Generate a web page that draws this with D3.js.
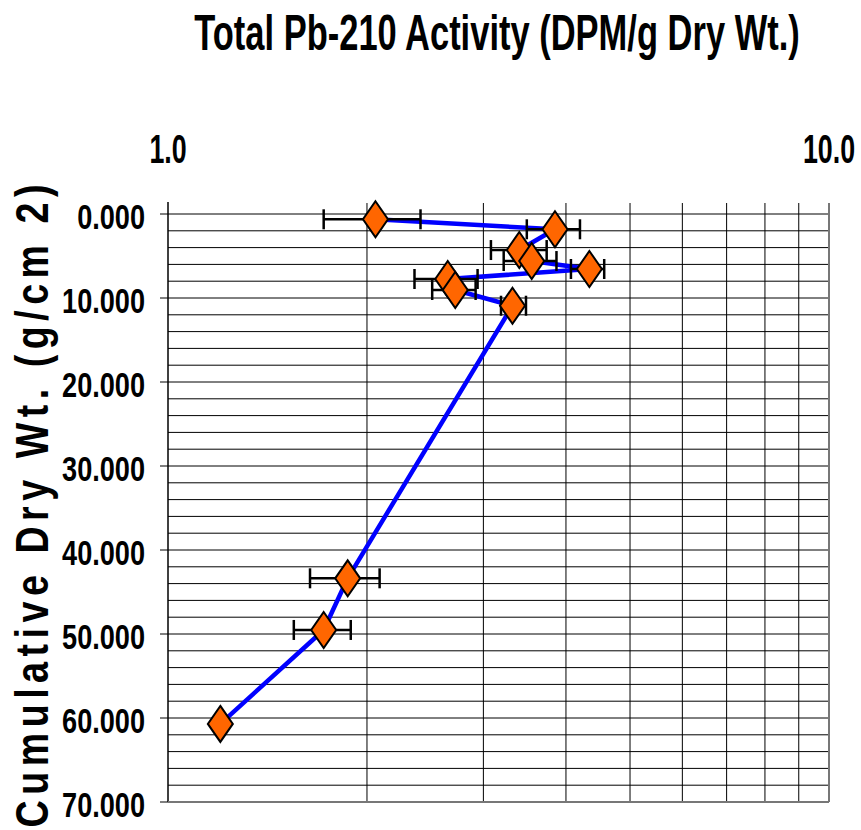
<!DOCTYPE html>
<html>
<head>
<meta charset="utf-8">
<script src="https://cdn.jsdelivr.net/npm/d3@7"></script>
<style>
  body { margin: 0; background: #fff; }
  text { font-family: "Liberation Sans", Arial, sans-serif; font-weight: bold; }
</style>
</head>
<body>
<div id="chart"></div>
<script>
// Pb-210 activity (DPM/g) vs cumulative dry weight (g/cm2)
const activity = [2.06, 3.85, 3.40, 3.55, 4.34, 2.65, 2.72, 3.32, 1.87, 1.72, 1.20];
const errLow   = [1.72, 3.49, 3.08, 3.22, 4.07, 2.36, 2.51, 3.19, 1.64, 1.55, 1.20];
const errHigh  = [2.41, 4.20, 3.74, 3.87, 4.57, 2.94, 2.92, 3.48, 2.09, 1.89, 1.20];
const cumWt    = [0.63, 1.82, 4.29, 5.60, 6.55, 7.74, 9.05, 10.92, 43.37, 49.52, 60.7];
const xTickLabels = ["1.0", "10.0"];
const yTicks = [0, 10, 20, 30, 40, 50, 60, 70];

const width = 861, height = 830;
const margin = {top: 214, right: 32, bottom: 28, left: 168};

let svg = d3.select("#chart").append("svg")
    .attr("width", width)
    .attr("height", height);

let x = d3.scaleLog().domain([1, 10]).range([margin.left, width - margin.right]);
let y = d3.scaleLinear().domain([0, 70]).range([margin.top, height - margin.bottom]);

// horizontal grid every 2
let grid = svg.append("g");
grid.selectAll("line.h")
    .data(d3.range(0, 71, 2))
    .enter().append("line")
    .attr("x1", x(1)).attr("x2", x(10))
    .attr("y1", d => y(d)).attr("y2", d => y(d))
    .attr("stroke", "#000").attr("stroke-width", 1);

// vertical grid (log minor) with outside ticks on top
grid.selectAll("line.v")
    .data(d3.range(2, 11))
    .enter().append("line")
    .attr("x1", d => x(d)).attr("x2", d => x(d))
    .attr("y1", y(0) - 11).attr("y2", y(70))
    .attr("stroke", d => d == 10 ? "#777" : "#000").attr("stroke-width", d => d == 10 ? 2 : 1);

// y axis line
svg.append("line")
    .attr("x1", x(1)).attr("x2", x(1))
    .attr("y1", y(0) - 12).attr("y2", y(70))
    .attr("stroke", "#000").attr("stroke-width", 1.5);

// bottom border
svg.append("line")
    .attr("x1", x(1)).attr("x2", x(10))
    .attr("y1", y(70)).attr("y2", y(70))
    .attr("stroke", "#777").attr("stroke-width", 2);

// y ticks + labels
svg.selectAll("line.yt")
    .data(yTicks)
    .enter().append("line")
    .attr("x1", x(1) - 8).attr("x2", x(1))
    .attr("y1", d => y(d)).attr("y2", d => y(d))
    .attr("stroke", "#000");

svg.selectAll("text.yl")
    .data(yTicks)
    .enter().append("text")
    .attr("transform", d => `translate(145,${y(d) + 15}) scale(0.775,1)`)
    .attr("text-anchor", "end")
    .style("font-size", "35px")
    .text(d => d3.format(".3f")(d));

// x labels on top
svg.selectAll("text.xl")
    .data(xTickLabels)
    .enter().append("text")
    .attr("transform", d => `translate(${x(+d)},163) scale(0.67,1)`)
    .attr("text-anchor", "middle")
    .style("font-size", "40px")
    .text(d => d);

// title
svg.append("text")
    .attr("transform", "translate(497,50) scale(0.69,1)")
    .attr("text-anchor", "middle")
    .style("font-size", "50px")
    .text("Total Pb-210 Activity (DPM/g Dry Wt.)");

// y axis title
svg.append("text")
    .attr("transform", "translate(48,506) rotate(-90) scale(0.8,1)")
    .attr("text-anchor", "middle")
    .attr("textLength", 643 / 0.8)
    .attr("lengthAdjust", "spacing")
    .style("font-size", "47px")
    .text("Cumulative Dry Wt. (g/cm 2)");

let pts = activity.map((a, i) => ({a: a, w: cumWt[i], lo: errLow[i], hi: errHigh[i]}));

// line
let line = d3.line()
    .x(d => x(d.a))
    .y(d => y(d.w));

svg.append("path")
    .datum(pts)
    .attr("d", line)
    .attr("fill", "none")
    .attr("stroke", "#0000ff")
    .attr("stroke-width", 4.5)
    .attr("stroke-linejoin", "round");

// error bars
let eb = svg.append("g").attr("stroke", "#000").attr("stroke-width", 2.5);
pts.filter(d => d.hi > d.lo).forEach(function(d) {
    eb.append("line").attr("x1", x(d.lo)).attr("x2", x(d.hi)).attr("y1", y(d.w)).attr("y2", y(d.w));
    eb.append("line").attr("x1", x(d.lo)).attr("x2", x(d.lo)).attr("y1", y(d.w) - 10).attr("y2", y(d.w) + 10);
    eb.append("line").attr("x1", x(d.hi)).attr("x2", x(d.hi)).attr("y1", y(d.w) - 10).attr("y2", y(d.w) + 10);
});

// diamonds
svg.selectAll("path.dm")
    .data(pts)
    .enter().append("path")
    .attr("d", d => {
        let cx = x(d.a), cy = y(d.w);
        return `M${cx},${cy - 18}L${cx + 12.5},${cy}L${cx},${cy + 18}L${cx - 12.5},${cy}Z`;
    })
    .attr("fill", "#ff6600")
    .attr("stroke", "#000")
    .attr("stroke-width", 2);
</script>
</body>
</html>
